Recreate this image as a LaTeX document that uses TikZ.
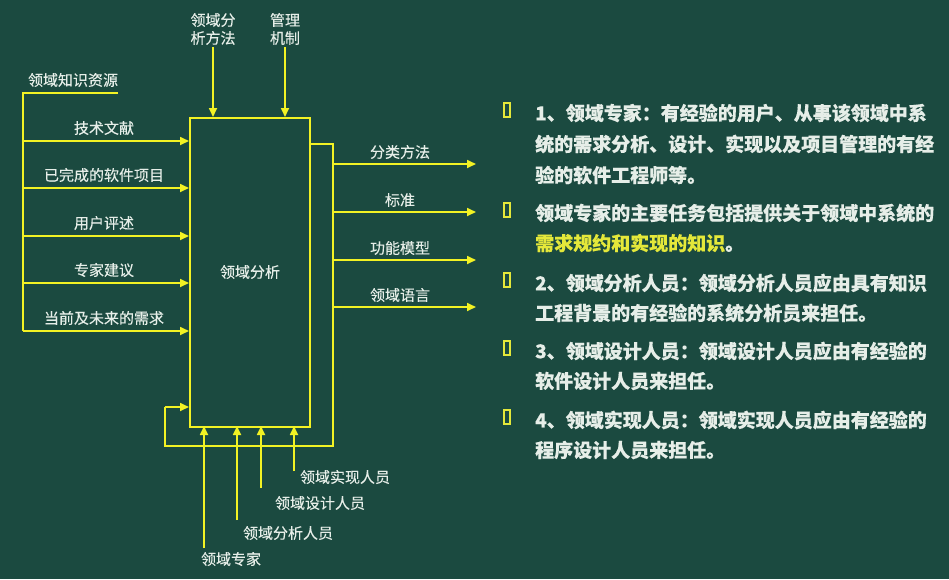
\documentclass[tikz,border=0pt]{standalone}
\usepackage{fontspec}
\setmainfont{Noto Sans CJK SC}[FakeBold=0.2]
\usetikzlibrary{arrows.meta}
\definecolor{bg}{HTML}{1B4A40}
\definecolor{ln}{HTML}{F2F224}
\definecolor{tx}{HTML}{E6EEE8}
\definecolor{hl}{HTML}{E4E83A}
\tikzset{
  wire/.style={draw=ln, line width=1.7pt},
  arr/.style={wire, -{Triangle[length=9pt,width=8pt]}},
  lab/.style={text=tx, font=\fontsize{15}{18}\selectfont, inner sep=0pt},
  para/.style={text=tx, font=\fontsize{19}{20}\selectfont\bfseries, inner sep=0pt, anchor=west},
  bul/.style={draw=hl, line width=1.3pt, minimum width=6pt, minimum height=14pt, inner sep=0pt}
}
\begin{document}
\begin{tikzpicture}[x=1pt,y=-1pt]
\fill[bg] (0,0) rectangle (949,579);
\useasboundingbox (0,0) rectangle (949,579);

% main box
\node[wire, minimum width=120pt, minimum height=309pt, inner sep=0pt, anchor=north west] (box) at (189,117) {};
\node[lab] (boxlab) at (250,272) {领域分析};

% top inputs
\node[lab, align=center] (t1) at (213,29) {领域分\\析方法};
\node[lab, align=center] (t2) at (285,29) {管理\\机制};
\coordinate (t1s) at (213,47);
\coordinate (t2s) at (285,47);
\coordinate (t1e) at (213,117);
\coordinate (t2e) at (285,117);
\draw[arr] (t1s) -- (t1e);
\draw[arr] (t2s) -- (t2e);

% left inputs
\coordinate (ltop) at (23,93);
\coordinate (lbot) at (23,331);
\coordinate (lend) at (118,93);
\node[lab] (src) at (73,80) {领域知识资源};
\draw[wire] (lend) -- (ltop) -- (lbot);
\foreach \y/\t/\n in {141/技术文献/a, 188/已完成的软件项目/b, 236/用户评述/c, 283/专家建议/d, 331/当前及未来的需求/e} {
  \coordinate (l\n) at (23,\y);
  \coordinate (r\n) at (189,\y);
  \node[lab] (lab\n) at (104,\y-13) {\t};
  \draw[arr] (l\n) -- (r\n);
}

% right outputs
\coordinate (o0) at (309,144);
\coordinate (o1) at (333,144);
\coordinate (o2) at (333,446);
\coordinate (o3) at (165,446);
\coordinate (o4) at (165,407);
\coordinate (o5) at (189,407);
\draw[wire] (o0) -- (o1) -- (o2) -- (o3) -- (o4);
\draw[arr] (o4) -- (o5);
\foreach \y/\t/\n in {164/分类方法/a, 212/标准/b, 260/功能模型/c, 307/领域语言/d} {
  \coordinate (os\n) at (333,\y);
  \coordinate (oe\n) at (476,\y);
  \node[lab] (olab\n) at (400,\y-12) {\t};
  \draw[arr] (os\n) -- (oe\n);
}

% bottom inputs
\foreach \x/\ys/\lx/\ly/\t/\n in {204/548/231/559/领域专家/a, 237/520/288/533/领域分析人员/b, 261/488/320/503/领域设计人员/c, 294/471/345/477/领域实现人员/d} {
  \coordinate (bs\n) at (\x,\ys);
  \coordinate (be\n) at (\x,426);
  \node[lab] (blab\n) at (\lx,\ly) {\t};
  \draw[arr] (bs\n) -- (be\n);
}

% right text
\foreach \y/\n in {110/p1, 210/p2, 280/p3, 348/p4, 417/p5} {
  \node[bul] (b\n) at (507,\y) {};
}
\node[para] (p1a) at (535,113) {1、领域专家：有经验的用户、从事该领域中系};
\node[para] (p1b) at (535,144) {统的需求分析、设计、实现以及项目管理的有经};
\node[para] (p1c) at (535,175) {验的软件工程师等。};
\node[para] (p2a) at (535,213) {领域专家的主要任务包括提供关于领域中系统的};
\node[para] (p2b) at (535,243) {\textcolor{hl}{需求规约和实现的知识}。};
\node[para] (p3a) at (535,283) {2、领域分析人员：领域分析人员应由具有知识};
\node[para] (p3b) at (535,313) {工程背景的有经验的系统分析员来担任。};
\node[para] (p4a) at (535,351) {3、领域设计人员：领域设计人员应由有经验的};
\node[para] (p4b) at (535,381) {软件设计人员来担任。};
\node[para] (p5a) at (535,420) {4、领域实现人员：领域实现人员应由有经验的};
\node[para] (p5b) at (535,450) {程序设计人员来担任。};
\end{tikzpicture}
\end{document}
